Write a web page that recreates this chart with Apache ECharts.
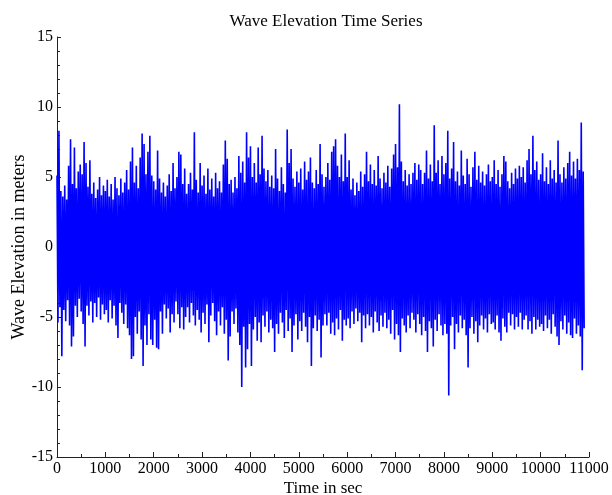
<!DOCTYPE html>
<html>
<head>
<meta charset="utf-8">
<title>Wave Elevation Time Series</title>
<script src="https://cdn.jsdelivr.net/npm/echarts@6/dist/echarts.min.js"></script>
<style>
  html, body { margin: 0; padding: 0; background: #fff; }
  #chart { width: 612px; height: 495px; }
</style>
</head>
<body>
<div id="chart"></div>
<script>
// Successive wave extrema (crest, trough, crest, ...) of the record,
// one extremum every `sampleStep` seconds, starting at t = 0 s.
const sampleStep = 20;

// Crest heights in metres, one row per 1000 s of record.
const crests = [
  5.1, 8.3, 4.0, 3.6, 4.4, 3.4, 5.8, 7.7, 4.5, 7.1, 4.2, 5.4, 5.9, 5.2, 7.5, 6.0, 4.3, 6.2, 3.8, 4.6, 3.5, 4.1, 5.0, 3.7, 4.4,
  4.0, 4.8, 3.6, 4.5, 3.4, 5.0, 4.2, 3.7, 4.9, 3.9, 4.6, 5.5, 4.1, 6.1, 7.1, 4.6, 5.8, 4.2, 6.4, 8.1, 7.35, 5.2, 6.8, 7.95, 5.1,
  4.7, 4.1, 6.9, 4.9, 3.9, 4.6, 3.6, 4.4, 5.2, 4.0, 6.0, 4.2, 5.0, 6.8, 6.6, 4.5, 5.6, 3.8, 4.5, 5.3, 4.1, 8.2, 4.8, 3.9, 6.0,
  4.4, 5.1, 3.8, 5.6, 4.1, 4.9, 3.6, 5.3, 4.2, 4.7, 3.9, 5.9, 7.6, 6.3, 4.5, 4.8, 3.9, 5.0, 4.2, 6.5, 5.3, 6.1, 4.6, 8.2, 6.4,
  7.2, 5.0, 6.0, 4.6, 7.1, 5.2, 7.95, 5.6, 4.7, 5.5, 4.3, 5.1, 4.2, 7.0, 4.9, 4.0, 5.7, 4.5, 3.9, 8.4, 6.0, 7.0, 4.9, 4.3, 5.4,
  4.6, 5.6, 4.1, 6.1, 4.8, 5.4, 6.4, 4.6, 4.2, 5.5, 4.5, 7.35, 5.2, 4.3, 5.0, 6.0, 4.8, 6.8, 7.2, 7.7, 5.8, 5.0, 6.6, 4.7, 8.1,
  5.0, 6.2, 4.1, 4.9, 3.7, 4.6, 4.0, 5.4, 4.3, 5.2, 6.8, 4.7, 5.9, 4.5, 5.5, 4.4, 6.5, 4.9, 4.2, 5.3, 4.6, 5.8, 4.3, 5.6, 6.6,
  7.35, 5.7, 10.2, 6.1, 4.7, 5.5, 4.4, 5.2, 4.5, 5.3, 6.0, 4.8, 5.9, 5.5, 4.5, 5.3, 6.9, 4.9, 5.9, 4.7, 8.7, 5.3, 6.2, 4.5, 6.5,
  5.2, 6.0, 8.3, 4.9, 5.6, 7.5, 4.7, 5.4, 4.4, 6.9, 5.1, 4.5, 6.3, 5.2, 4.3, 5.7, 6.8, 4.8, 5.8, 4.6, 5.4, 4.4, 5.2, 5.9, 4.7,
  5.0, 6.2, 4.5, 5.5, 4.3, 5.2, 6.5, 6.1, 4.7, 4.2, 5.3, 4.5, 5.6, 4.9, 5.8, 5.0, 5.7, 4.6, 6.2, 7.0, 5.2, 7.95, 5.5, 6.1, 4.8,
  5.2, 6.7, 4.7, 5.7, 4.5, 6.2, 4.9, 5.5, 4.6, 7.6, 5.2, 4.6, 5.7, 4.9, 6.0, 6.8, 5.1, 6.1, 4.9, 6.3, 5.5, 8.9, 5.4
];

// Trough depths in metres, each following the crest with the same index.
const troughs = [
  -5.4, -4.3, -7.8, -4.5, -5.3, -3.8, -5.6, -7.1, -6.4, -4.2, -5.0, -3.7, -4.6, -5.5, -7.1, -4.2, -4.9, -3.9, -5.4, -4.0, -5.0, -3.6, -5.2, -4.1, -4.8,
  -4.5, -5.4, -3.8, -5.1, -4.2, -5.6, -6.5, -4.0, -4.7, -5.5, -4.1, -5.8, -6.3, -8.0, -7.8, -5.0, -6.2, -4.6, -6.6, -8.5, -5.6, -7.0, -4.8, -6.6, -7.0,
  -5.2, -7.2, -7.3, -4.6, -6.2, -4.1, -5.1, -4.4, -6.1, -4.8, -5.4, -3.9, -4.8, -5.8, -4.3, -5.9, -5.0, -4.3, -5.4, -4.0, -4.9, -5.6, -4.5, -5.2, -6.1,
  -4.7, -5.5, -4.1, -6.8, -4.9, -4.0, -5.3, -6.3, -4.6, -5.6, -4.3, -6.2, -5.2, -8.1, -6.4, -4.6, -5.5, -4.4, -6.1, -7.0, -10.0, -5.7, -8.6, -7.3, -5.5,
  -8.5, -5.9, -5.0, -6.7, -5.4, -6.8, -4.9, -5.7, -4.6, -6.1, -5.2, -5.8, -7.5, -5.5, -6.2, -4.7, -5.4, -6.5, -4.5, -6.0, -5.1, -7.5, -5.6, -4.8, -6.6,
  -5.3, -6.0, -4.7, -5.7, -6.8, -5.0, -8.5, -5.8, -4.9, -6.0, -5.2, -7.9, -5.6, -4.8, -5.6, -4.7, -6.2, -5.4, -6.3, -5.1, -5.9, -4.5, -6.7, -5.2, -5.6,
  -5.1, -5.8, -4.6, -5.5, -4.4, -5.3, -4.7, -6.8, -4.9, -5.8, -4.8, -5.6, -5.0, -6.1, -4.6, -5.4, -6.0, -4.9, -5.7, -4.7, -5.8, -5.2, -6.2, -4.5, -6.6,
  -5.5, -6.3, -7.5, -5.1, -5.6, -6.1, -4.9, -5.8, -4.7, -5.2, -6.1, -4.8, -5.5, -6.3, -5.0, -6.0, -7.5, -5.3, -5.8, -7.1, -5.2, -6.0, -4.8, -5.6, -6.3,
  -5.5, -6.2, -10.6, -5.6, -5.0, -7.3, -5.5, -6.1, -4.9, -5.8, -5.2, -6.3, -8.6, -5.8, -5.0, -6.2, -5.3, -6.8, -5.6, -4.9, -5.9, -5.1, -6.1, -4.8, -5.5,
  -5.4, -5.9, -4.9, -6.1, -6.7, -5.1, -5.7, -6.1, -4.7, -5.6, -4.8, -5.9, -5.0, -5.7, -4.7, -5.9, -5.2, -4.9, -5.9, -5.3, -6.2, -5.0, -5.9, -5.2, -5.7,
  -5.5, -6.0, -4.9, -5.8, -5.2, -6.2, -4.8, -5.7, -6.4, -7.0, -5.3, -5.9, -4.9, -6.2, -5.4, -6.3, -6.5, -5.1, -6.2, -5.6, -6.4, -8.8, -5.8
];

// Interleave crests and troughs into one [time, elevation] record.
const record = [];
for (let k = 0; k < crests.length; k++) {
  record.push([(2 * k) * sampleStep, crests[k]]);
  record.push([(2 * k + 1) * sampleStep, troughs[k]]);
}

const serif = "'Liberation Serif', 'Times New Roman', serif";
const axisColor = '#222';

const chart = echarts.init(document.getElementById('chart'), null, { renderer: 'canvas' });
chart.setOption({
  animation: false,
  backgroundColor: '#fff',
  title: {
    text: 'Wave Elevation Time Series',
    left: 321,
    top: 8,
    textAlign: 'center',
    textStyle: { fontFamily: serif, fontSize: 17, fontWeight: 'normal', color: '#000' }
  },
  grid: {
    left: 57, right: 23, top: 37, bottom: 38,
    containLabel: false,
    outerBoundsMode: 'none'
  },
  xAxis: {
    type: 'value',
    min: 0,
    max: 11000,
    interval: 1000,
    name: 'Time in sec',
    nameLocation: 'middle',
    nameGap: 23,
    nameMoveOverlap: false,
    nameTextStyle: { fontFamily: serif, fontSize: 17, color: '#000' },
    axisLine: { show: true, onZero: false, lineStyle: { color: axisColor, width: 1 } },
    axisTick: { show: true, inside: true, length: 5, lineStyle: { color: axisColor } },
    minorTick: { show: true, splitNumber: 2, length: 3, lineStyle: { color: axisColor } },
    splitLine: { show: false },
    axisLabel: {
      fontFamily: serif, fontSize: 16, color: '#000', margin: 4,
      formatter: (v) => String(v)
    }
  },
  yAxis: {
    type: 'value',
    min: -15,
    max: 15,
    interval: 5,
    name: 'Wave Elevation in meters',
    nameLocation: 'middle',
    nameGap: 29,
    nameMoveOverlap: false,
    nameTextStyle: { fontFamily: serif, fontSize: 18, color: '#000' },
    axisLine: { show: true, onZero: false, lineStyle: { color: axisColor, width: 1 } },
    axisTick: { show: true, inside: true, length: 4, lineStyle: { color: axisColor } },
    minorTick: { show: true, splitNumber: 5, length: 3, lineStyle: { color: axisColor } },
    splitLine: { show: false },
    axisLabel: { fontFamily: serif, fontSize: 16, color: '#000', margin: 4 }
  },
  series: [{
    type: 'line',
    data: record,
    showSymbol: false,
    symbol: 'none',
    smooth: false,
    lineStyle: { color: '#0000ff', width: 1.6 },
    emphasis: { disabled: true }
  }]
});
</script>
</body>
</html>
